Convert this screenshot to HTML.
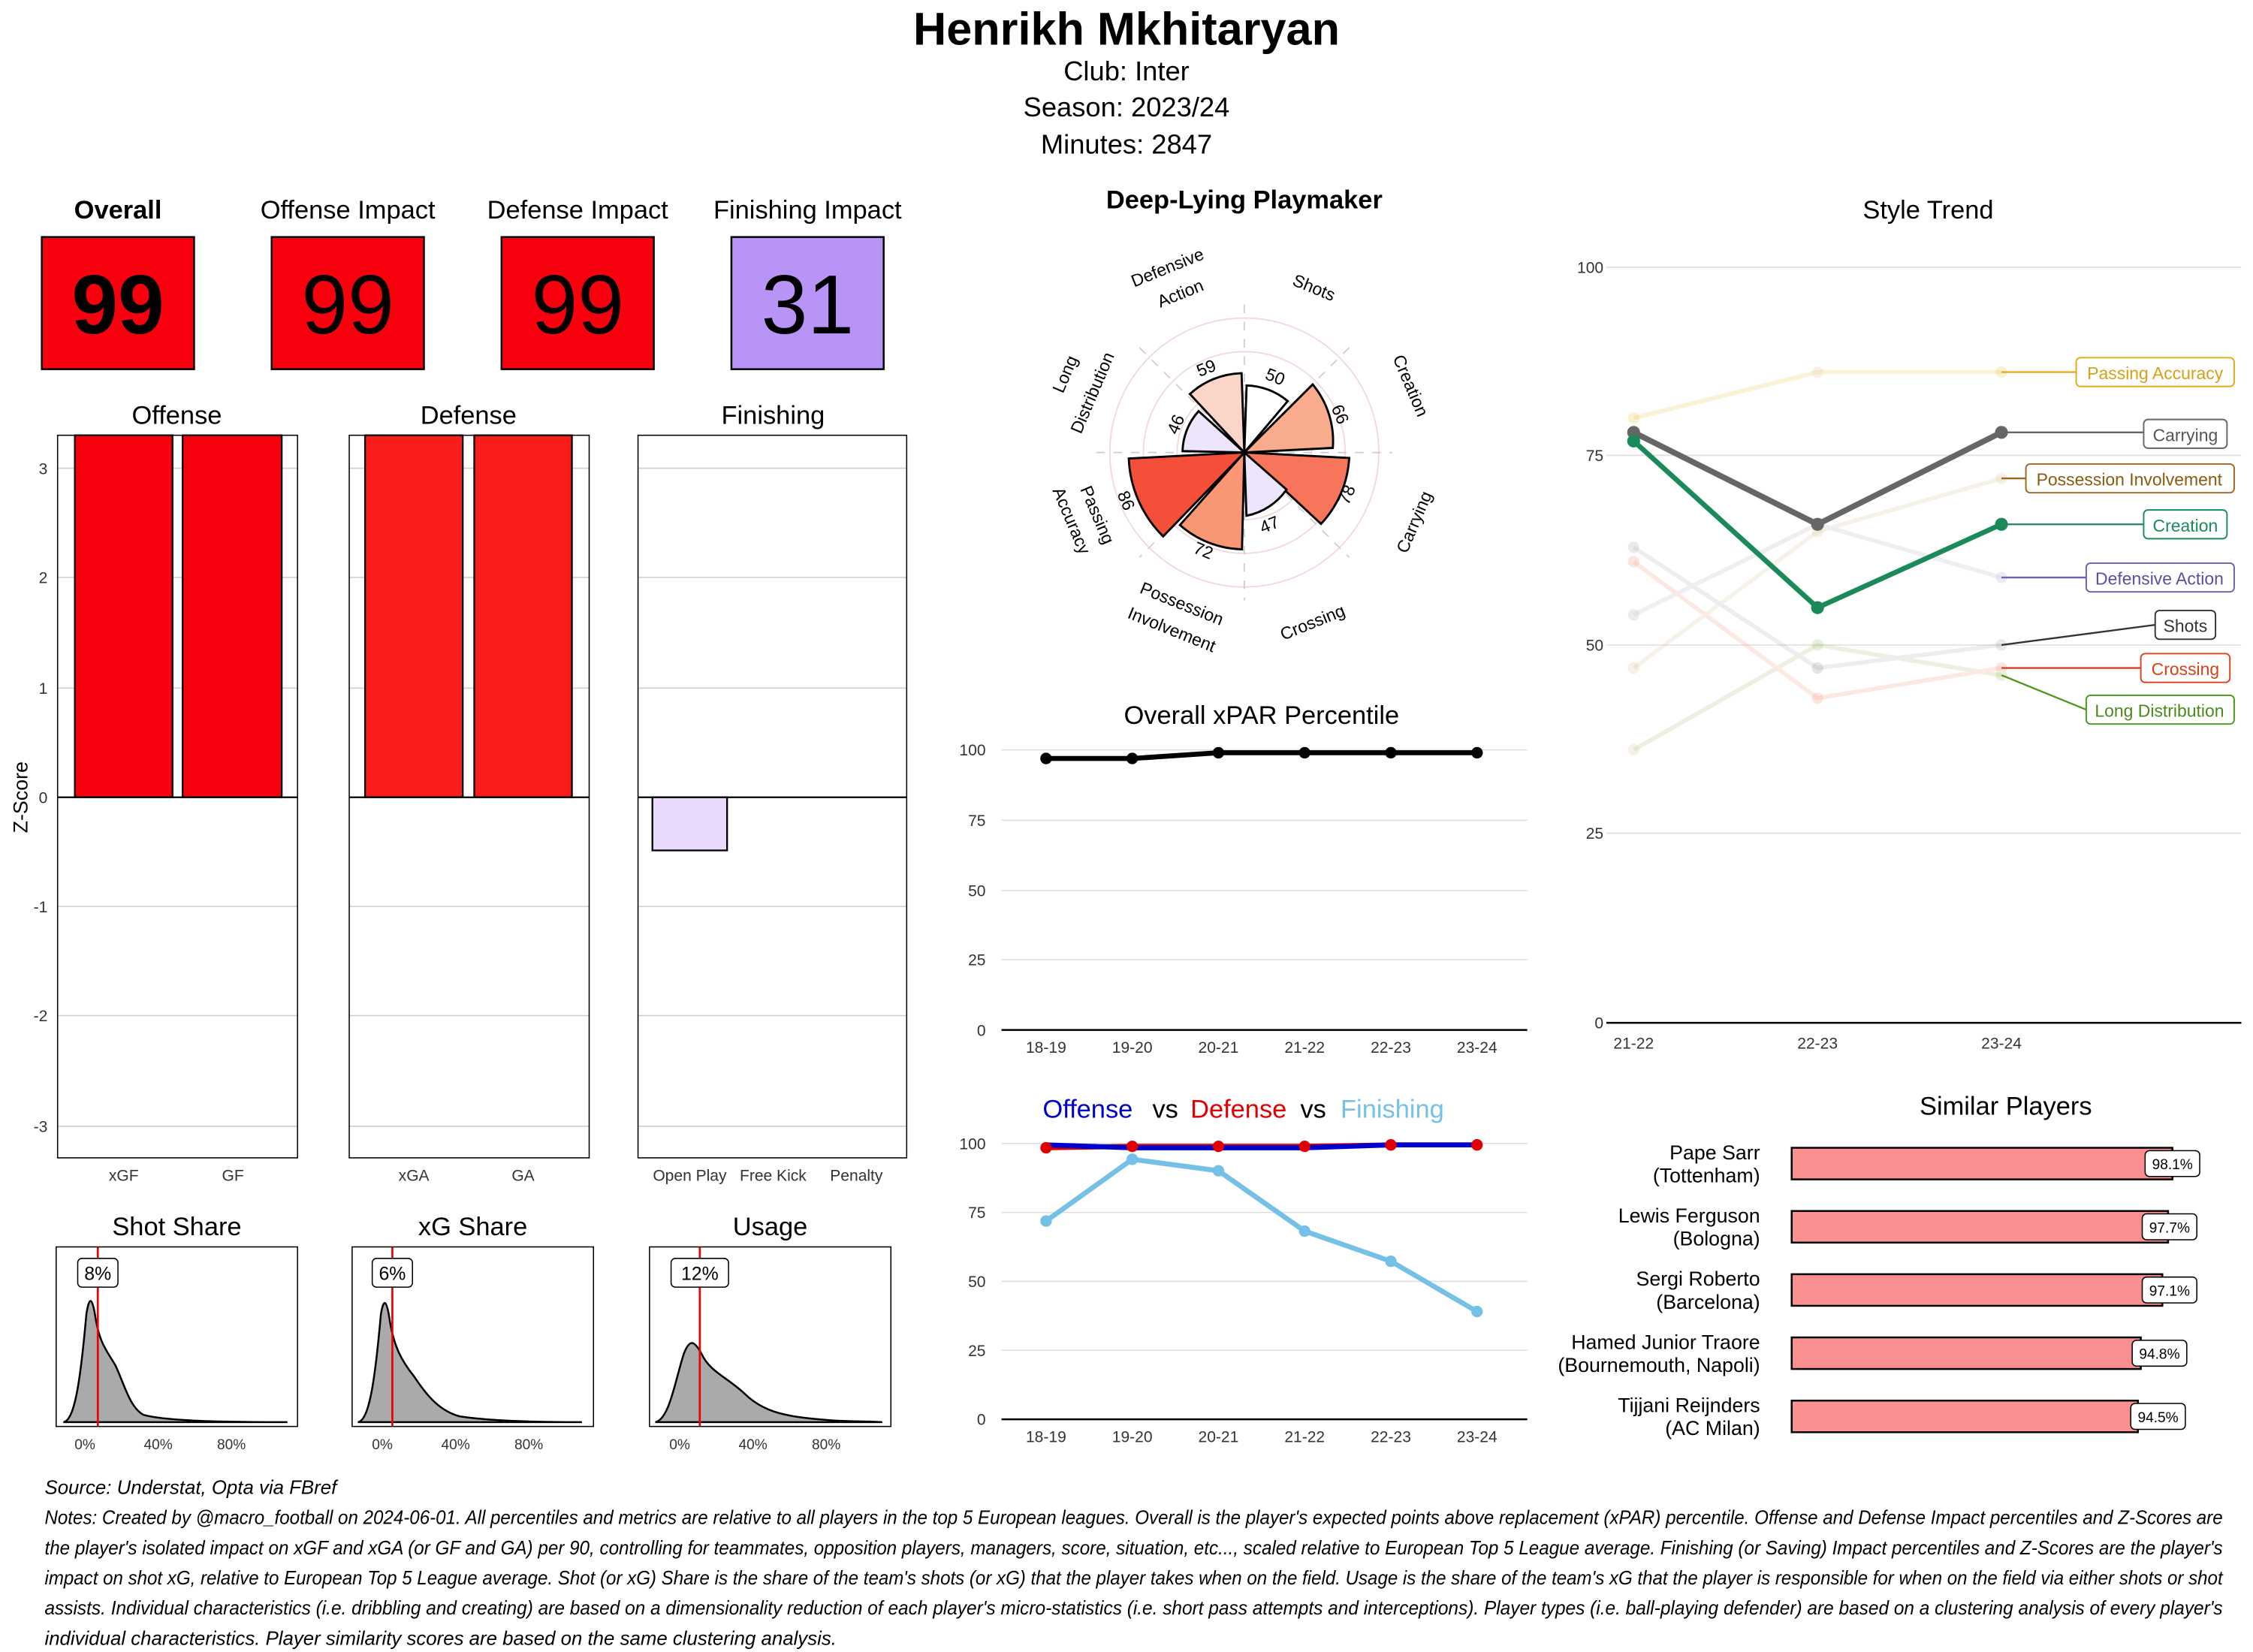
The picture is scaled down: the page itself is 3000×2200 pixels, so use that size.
<!DOCTYPE html>
<html><head><meta charset="utf-8"><style>
html,body{margin:0;padding:0;background:#fff;}
svg{display:block;}
text{font-family:"Liberation Sans Narrow","Liberation Sans",sans-serif;}
.a{font-family:"Liberation Sans",sans-serif;}
</style></head><body>
<svg width="3000" height="2200" viewBox="0 0 1568 1150" xmlns="http://www.w3.org/2000/svg">
<rect width="1568" height="1150" fill="#fff"/>
<!-- header -->
<text x="784" y="31" text-anchor="middle" font-size="32" font-weight="bold">Henrikh Mkhitaryan</text>
<text x="784" y="56" text-anchor="middle" font-size="19">Club:  Inter</text>
<text x="784" y="81" text-anchor="middle" font-size="19">Season:  2023/24</text>
<text x="784" y="107" text-anchor="middle" font-size="19">Minutes:  2847</text>

<!-- impact boxes -->
<g font-size="18" text-anchor="middle">
<text x="82" y="152" font-weight="bold">Overall</text>
<text x="242" y="152">Offense Impact</text>
<text x="402" y="152">Defense Impact</text>
<text x="562" y="152">Finishing Impact</text>
</g>
<g stroke="#000" stroke-width="1.3">
<rect x="29" y="165" width="106" height="92" fill="#f8000e"/>
<rect x="189" y="165" width="106" height="92" fill="#f8000e"/>
<rect x="349" y="165" width="106" height="92" fill="#f8000e"/>
<rect x="509" y="165" width="106" height="92" fill="#b794f6"/>
</g>
<g font-size="58" text-anchor="middle">
<text x="82" y="232" font-weight="bold">99</text>
<text x="242" y="232">99</text>
<text x="402" y="232">99</text>
<text x="562" y="232">31</text>
</g>

<!-- Offense/Defense/Finishing panels -->
<g font-size="18" text-anchor="middle">
<text x="123" y="295">Offense</text>
<text x="326" y="295">Defense</text>
<text x="538" y="295">Finishing</text>
</g>
<text x="0" y="0" font-size="14" text-anchor="middle" transform="translate(19,555) rotate(-90)">Z-Score</text>
<g class="a" font-size="11" fill="#333" text-anchor="end">
<text x="33" y="330">3</text><text x="33" y="406">2</text><text x="33" y="483">1</text><text x="33" y="559">0</text><text x="33" y="635">-1</text><text x="33" y="711">-2</text><text x="33" y="788">-3</text>
</g>
<g stroke="#ccc" stroke-width="0.8">
<path d="M40 326H207M40 402H207M40 479H207M40 631H207M40 707H207M40 784H207"/>
<path d="M243 326H410M243 402H410M243 479H410M243 631H410M243 707H410M243 784H410"/>
<path d="M444 326H631M444 402H631M444 479H631M444 631H631M444 707H631M444 784H631"/>
</g>
<g stroke="#000" stroke-width="1.2">
<rect x="52" y="303" width="68" height="252" fill="#f8000e"/>
<rect x="127" y="303" width="69" height="252" fill="#f8000e"/>
<rect x="254" y="303" width="68" height="252" fill="#f91d1b"/>
<rect x="330" y="303" width="68" height="252" fill="#f91d1b"/>
<rect x="454" y="555" width="52" height="37" fill="#e8d8fc"/>
<path d="M40 555H207M243 555H410M444 555H631"/>
</g>
<g fill="none" stroke="#000" stroke-width="0.8">
<rect x="40" y="303" width="167" height="503"/>
<rect x="243" y="303" width="167" height="503"/>
<rect x="444" y="303" width="187" height="503"/>
</g>
<g class="a" font-size="11" fill="#333" text-anchor="middle">
<text x="86" y="822">xGF</text><text x="162" y="822">GF</text>
<text x="288" y="822">xGA</text><text x="364" y="822">GA</text>
<text x="480" y="822">Open Play</text><text x="538" y="822">Free Kick</text><text x="596" y="822">Penalty</text>
</g>

<!-- share panels -->
<g font-size="18" text-anchor="middle">
<text x="123" y="860">Shot Share</text>
<text x="329" y="860">xG Share</text>
<text x="536" y="860">Usage</text>
</g>
<g fill="#aaa" stroke="#000" stroke-width="1.3">
<path d="M44 990 C52 989 56 960 60 915 C62 902 64 903 66 915 C69 935 74 940 80 950 C86 962 90 980 100 985 C115 989 150 990 200 990 Z"/>
<path d="M249 990 C257 989 261 960 265 915 C267 903 269 905 271 918 C274 938 280 948 288 958 C296 970 305 982 320 986 C340 989 370 990 405 990 Z"/>
<path d="M456 990 C466 988 470 960 476 942 C480 932 483 933 488 942 C494 955 505 958 518 970 C530 982 545 986 570 988 C590 990 600 989 614 990 Z"/>
</g>
<g stroke="#e00" stroke-width="1.4">
<path d="M68 868V993M273 868V993M487 868V993"/>
</g>
<g fill="none" stroke="#000" stroke-width="0.8">
<rect x="39" y="868" width="168" height="125"/>
<rect x="245" y="868" width="168" height="125"/>
<rect x="452" y="868" width="168" height="125"/>
</g>
<g fill="#fff" stroke="#000" stroke-width="0.8">
<rect x="54" y="876" width="28" height="20" rx="3"/>
<rect x="259" y="876" width="28" height="20" rx="3"/>
<rect x="467" y="876" width="40" height="20" rx="3"/>
</g>
<g class="a" font-size="13" text-anchor="middle">
<text x="68" y="891">8%</text><text x="273" y="891">6%</text><text x="487" y="891">12%</text>
</g>
<g class="a" font-size="10" fill="#333" text-anchor="middle">
<text x="59" y="1009">0%</text><text x="110" y="1009">40%</text><text x="161" y="1009">80%</text>
<text x="266" y="1009">0%</text><text x="317" y="1009">40%</text><text x="368" y="1009">80%</text>
<text x="473" y="1009">0%</text><text x="524" y="1009">40%</text><text x="575" y="1009">80%</text>
</g>

<!-- Radar -->
<text x="866" y="145" text-anchor="middle" font-size="18" font-weight="bold">Deep-Lying Playmaker</text>
<g fill="none" stroke="#f3d6d6" stroke-width="0.9">
<circle cx="866" cy="315" r="23.4"/><circle cx="866" cy="315" r="46.8"/><circle cx="866" cy="315" r="70.2"/><circle cx="866" cy="315" r="93.6"/>
</g>
<g stroke="#ccc" stroke-width="0.9" stroke-dasharray="6,6">
<path d="M866 212V418M763 315H969M793 242L939 388M939 242L793 388"/>
</g>
<g stroke="#000" stroke-width="1.5" id="wedges"></g>
<g class="a" font-size="12" text-anchor="middle" id="rlabels"></g>

<!-- Overall xPAR -->
<text x="878" y="504" text-anchor="middle" font-size="18">Overall xPAR Percentile</text>
<g stroke="#ddd" stroke-width="0.8"><path d="M697 522H1063M697 571H1063M697 620H1063M697 668H1063"/></g>
<path d="M697 717H1063" stroke="#000" stroke-width="1.3"/>
<g class="a" font-size="11" fill="#333" text-anchor="end">
<text x="686" y="526">100</text><text x="686" y="575">75</text><text x="686" y="624">50</text><text x="686" y="672">25</text><text x="686" y="721">0</text>
</g>
<g class="a" font-size="11" fill="#333" text-anchor="middle">
<text x="728" y="733">18-19</text><text x="788" y="733">19-20</text><text x="848" y="733">20-21</text><text x="908" y="733">21-22</text><text x="968" y="733">22-23</text><text x="1028" y="733">23-24</text>
</g>
<polyline points="728,528 788,528 848,524 908,524 968,524 1028,524" fill="none" stroke="#000" stroke-width="3.5"/>
<g fill="#000"><circle cx="728" cy="528" r="4"/><circle cx="788" cy="528" r="4"/><circle cx="848" cy="524" r="4"/><circle cx="908" cy="524" r="4"/><circle cx="968" cy="524" r="4"/><circle cx="1028" cy="524" r="4"/></g>

<!-- OvD -->
<text y="778" font-size="18" text-anchor="middle"><tspan x="757" fill="#0000cc">Offense</tspan><tspan x="811">vs</tspan><tspan x="862" fill="#e00000">Defense</tspan><tspan x="914">vs</tspan><tspan x="969" fill="#74c0e6">Finishing</tspan></text>
<g stroke="#ddd" stroke-width="0.8"><path d="M697 796H1063M697 844H1063M697 892H1063M697 940H1063"/></g>
<path d="M697 988H1063" stroke="#000" stroke-width="1.3"/>
<g class="a" font-size="11" fill="#333" text-anchor="end">
<text x="686" y="800">100</text><text x="686" y="848">75</text><text x="686" y="896">50</text><text x="686" y="944">25</text><text x="686" y="992">0</text>
</g>
<g class="a" font-size="11" fill="#333" text-anchor="middle">
<text x="728" y="1004">18-19</text><text x="788" y="1004">19-20</text><text x="848" y="1004">20-21</text><text x="908" y="1004">21-22</text><text x="968" y="1004">22-23</text><text x="1028" y="1004">23-24</text>
</g>
<polyline points="728,850 788,807 848,815 908,857 968,878 1028,913" fill="none" stroke="#74c0e6" stroke-width="3.5"/>
<g fill="#74c0e6"><circle cx="728" cy="850" r="4"/><circle cx="788" cy="807" r="4"/><circle cx="848" cy="815" r="4"/><circle cx="908" cy="857" r="4"/><circle cx="968" cy="878" r="4"/><circle cx="1028" cy="913" r="4"/></g>
<polyline points="728,799 788,798 848,798 908,798 968,797 1028,797" fill="none" stroke="#e00000" stroke-width="3.5"/>
<polyline points="728,797 788,799 848,799 908,799 968,797 1028,797" fill="none" stroke="#0000cc" stroke-width="3.5"/>
<g fill="#e00000"><circle cx="728" cy="799" r="4"/><circle cx="788" cy="798" r="4"/><circle cx="848" cy="798" r="4"/><circle cx="908" cy="798" r="4"/><circle cx="968" cy="797" r="4"/><circle cx="1028" cy="797" r="4"/></g>

<!-- Style trend -->
<text x="1342" y="152" text-anchor="middle" font-size="18">Style Trend</text>
<g stroke="#ddd" stroke-width="0.8"><path d="M1118 186H1560M1118 317H1560M1118 449H1560M1118 580H1560"/></g>
<path d="M1118 712H1560" stroke="#000" stroke-width="1.3"/>
<g class="a" font-size="11" fill="#333" text-anchor="end">
<text x="1116" y="190">100</text><text x="1116" y="321">75</text><text x="1116" y="453">50</text><text x="1116" y="584">25</text><text x="1116" y="716">0</text>
</g>
<g class="a" font-size="11" fill="#333" text-anchor="middle">
<text x="1137" y="730">21-22</text><text x="1265" y="730">22-23</text><text x="1393" y="730">23-24</text>
</g>
<g fill="none" stroke-width="3" opacity="0.22">
<polyline points="1137,291 1265,259 1393,259" stroke="#e6c84a"/>
<polyline points="1137,465 1265,370 1393,333" stroke="#d9c9a0"/>
<polyline points="1137,522 1265,449 1393,470" stroke="#a6c47a"/>
<polyline points="1137,381 1265,465 1393,449" stroke="#b0b0b0"/>
<polyline points="1137,428 1265,365 1393,402" stroke="#b8b8c8"/>
<polyline points="1137,391 1265,486 1393,465" stroke="#f2a080"/>
</g>
<g opacity="0.25">
<circle cx="1137" cy="291" r="4" fill="#e6c84a"/><circle cx="1265" cy="259" r="4" fill="#f2c0a0"/><circle cx="1393" cy="259" r="4" fill="#e6c84a"/>
<circle cx="1137" cy="465" r="4" fill="#d9c9a0"/><circle cx="1265" cy="370" r="4" fill="#d9c9a0"/><circle cx="1393" cy="333" r="4" fill="#d9c9a0"/>
<circle cx="1137" cy="522" r="4" fill="#d9c9a0"/><circle cx="1265" cy="449" r="4" fill="#a6c47a"/><circle cx="1393" cy="470" r="4" fill="#a6c47a"/>
<circle cx="1137" cy="381" r="4" fill="#b0b0b0"/><circle cx="1265" cy="465" r="4" fill="#999"/><circle cx="1393" cy="449" r="4" fill="#b0b0b0"/>
<circle cx="1137" cy="428" r="4" fill="#b8b8c8"/><circle cx="1393" cy="402" r="4" fill="#b8b8e8"/>
<circle cx="1137" cy="391" r="4" fill="#f2a080"/><circle cx="1265" cy="486" r="4" fill="#f2a080"/><circle cx="1393" cy="465" r="4" fill="#f2a080"/>
</g>
<polyline points="1137,301 1265,365 1393,301" fill="none" stroke="#666" stroke-width="4"/>
<polyline points="1137,307 1265,423 1393,365" fill="none" stroke="#1b8a5a" stroke-width="3.5"/>
<g fill="#666"><circle cx="1137" cy="301" r="4.5"/><circle cx="1265" cy="365" r="4.5"/><circle cx="1393" cy="301" r="4.5"/></g>
<g fill="#1b8a5a"><circle cx="1137" cy="307" r="4.5"/><circle cx="1265" cy="423" r="4.5"/><circle cx="1393" cy="365" r="4.5"/></g>
<g stroke-width="1.2" fill="none">
<path d="M1393 259H1445" stroke="#e6a817"/>
<path d="M1393 301H1492" stroke="#666"/>
<path d="M1393 333H1410" stroke="#a0661b"/>
<path d="M1393 365H1492" stroke="#1b8a5a"/>
<path d="M1393 402H1452" stroke="#6a5fb0"/>
<path d="M1393 449L1500 435" stroke="#333"/>
<path d="M1393 465H1490" stroke="#d9401a"/>
<path d="M1393 470L1452 494" stroke="#4a9a1a"/>
</g>
<g fill="#fff" stroke-width="1">
<rect x="1445" y="249" width="110" height="20" rx="3" stroke="#e6a817"/>
<rect x="1492" y="292" width="58" height="20" rx="3" stroke="#666"/>
<rect x="1410" y="323" width="145" height="20" rx="3" stroke="#a0661b"/>
<rect x="1492" y="355" width="58" height="20" rx="3" stroke="#1b8a5a"/>
<rect x="1452" y="392" width="103" height="20" rx="3" stroke="#6a5fb0"/>
<rect x="1500" y="425" width="42" height="20" rx="3" stroke="#333"/>
<rect x="1490" y="455" width="62" height="20" rx="3" stroke="#d9401a"/>
<rect x="1452" y="484" width="103" height="20" rx="3" stroke="#4a9a1a"/>
</g>
<g class="a" font-size="12" text-anchor="middle">
<text x="1500" y="264" fill="#d9a017">Passing Accuracy</text>
<text x="1521" y="307" fill="#555">Carrying</text>
<text x="1482" y="338" fill="#8a5a10">Possession Involvement</text>
<text x="1521" y="370" fill="#1b8a5a">Creation</text>
<text x="1503" y="407" fill="#5a4fa0">Defensive Action</text>
<text x="1521" y="440" fill="#333">Shots</text>
<text x="1521" y="470" fill="#d9401a">Crossing</text>
<text x="1503" y="499" fill="#4a8a1a">Long Distribution</text>
</g>

<!-- Similar players -->
<text x="1396" y="776" text-anchor="middle" font-size="18">Similar Players</text>
<g font-size="14" text-anchor="end">
<text x="1225" y="807">Pape Sarr</text><text x="1225" y="823">(Tottenham)</text>
<text x="1225" y="851">Lewis Ferguson</text><text x="1225" y="867">(Bologna)</text>
<text x="1225" y="895">Sergi Roberto</text><text x="1225" y="911">(Barcelona)</text>
<text x="1225" y="939">Hamed Junior Traore</text><text x="1225" y="955">(Bournemouth, Napoli)</text>
<text x="1225" y="983">Tijjani Reijnders</text><text x="1225" y="999">(AC Milan)</text>
</g>
<g fill="#fa8f8f" stroke="#000" stroke-width="1.3">
<rect x="1247" y="799" width="265" height="22"/>
<rect x="1247" y="843" width="262" height="22"/>
<rect x="1247" y="887" width="258" height="22"/>
<rect x="1247" y="931" width="243" height="22"/>
<rect x="1247" y="975" width="241" height="22"/>
</g>
<g fill="#fff" stroke="#000" stroke-width="0.8">
<rect x="1493" y="801" width="38" height="18" rx="3"/>
<rect x="1491" y="845" width="38" height="18" rx="3"/>
<rect x="1491" y="889" width="38" height="18" rx="3"/>
<rect x="1484" y="933" width="38" height="18" rx="3"/>
<rect x="1483" y="977" width="38" height="18" rx="3"/>
</g>
<g class="a" font-size="10" text-anchor="middle">
<text x="1512" y="814">98.1%</text><text x="1510" y="858">97.7%</text><text x="1510" y="902">97.1%</text><text x="1503" y="946">94.8%</text><text x="1502" y="990">94.5%</text>
</g>

<!-- footer -->
<g font-size="13.5" font-style="italic">
<text x="31" y="1040">Source: Understat, Opta via FBref</text>
<text x="31" y="1061" textLength="1516" lengthAdjust="spacingAndGlyphs">Notes: Created by @macro_football on 2024-06-01. All percentiles and metrics are relative to all players in the top 5 European leagues. Overall is the player's expected points above replacement (xPAR) percentile. Offense and Defense Impact percentiles and Z-Scores are</text>
<text x="31" y="1082" textLength="1516" lengthAdjust="spacingAndGlyphs">the player's isolated impact on xGF and xGA (or GF and GA) per 90, controlling for teammates, opposition players, managers, score, situation, etc..., scaled relative to European Top 5 League average. Finishing (or Saving) Impact percentiles and Z-Scores are the player's</text>
<text x="31" y="1103" textLength="1516" lengthAdjust="spacingAndGlyphs">impact on shot xG, relative to European Top 5 League average. Shot (or xG) Share is the share of the team's shots (or xG) that the player takes when on the field. Usage is the share of the team's xG that the player is responsible for when on the field via either shots or shot</text>
<text x="31" y="1124" textLength="1516" lengthAdjust="spacingAndGlyphs">assists. Individual characteristics (i.e. dribbling and creating) are based on a dimensionality reduction of each player's micro-statistics (i.e. short pass attempts and interceptions). Player types (i.e. ball-playing defender) are based on a clustering analysis of every player's</text>
<text x="31" y="1145">individual characteristics. Player similarity scores are based on the same clustering analysis.</text>
</g>

<!-- radar wedges (static) -->
<g stroke="#000" stroke-width="1.5">
<path d="M866 315 L867.6 268.3 A46.8 46.8 0 0 1 896.2 279.2 Z" fill="#ffffff"/>
<path d="M866 315 L913.6 267.6 A61.8 61.8 0 0 1 927.6 311.8 Z" fill="#f9ab8d"/>
<path d="M866 315 L939 318.8 A73 73 0 0 1 919.4 364.7 Z" fill="#f7755a"/>
<path d="M866 315 L895.4 340.8 A44 44 0 0 1 867.5 359 Z" fill="#ede5fb"/>
<path d="M866 315 L864.4 382.4 A67.4 67.4 0 0 1 821.2 365.5 Z" fill="#f99674"/>
<path d="M866 315 L809.5 373.4 A80.5 80.5 0 0 1 785.6 319.2 Z" fill="#f44f39"/>
<path d="M866 315 L823.0 314 A43 43 0 0 1 834.2 286.2 Z" fill="#ede5fb"/>
<path d="M866 315 L828.1 274.3 A55.2 55.2 0 0 1 864.1 259.8 Z" fill="#fbd5c8"/>
</g>
<g class="a" font-size="12" text-anchor="middle">
<text transform="translate(886,266) rotate(22)">50</text>
<text transform="translate(929,290) rotate(67)">66</text>
<text transform="translate(941,346) rotate(-67)">78</text>
<text transform="translate(885,369) rotate(-22)">47</text>
<text transform="translate(836,387) rotate(22)">72</text>
<text transform="translate(780,350) rotate(67)">86</text>
<text transform="translate(822,297) rotate(-67)">46</text>
<text transform="translate(841,260) rotate(-22)">59</text>
<text transform="translate(814,190) rotate(-22)">Defensive</text>
<text transform="translate(823,208) rotate(-22)">Action</text>
<text transform="translate(913,204) rotate(22)">Shots</text>
<text transform="translate(978,270) rotate(67)">Creation</text>
<text transform="translate(988,365) rotate(-67)">Carrying</text>
<text transform="translate(915,437) rotate(-22)">Crossing</text>
<text transform="translate(821,424) rotate(22)">Possession</text>
<text transform="translate(814,442) rotate(22)">Involvement</text>
<text transform="translate(760,360) rotate(67)">Passing</text>
<text transform="translate(742,364) rotate(67)">Accuracy</text>
<text transform="translate(745,262) rotate(-67)">Long</text>
<text transform="translate(764,275) rotate(-67)">Distribution</text>
</g>
</svg>
</body></html>
